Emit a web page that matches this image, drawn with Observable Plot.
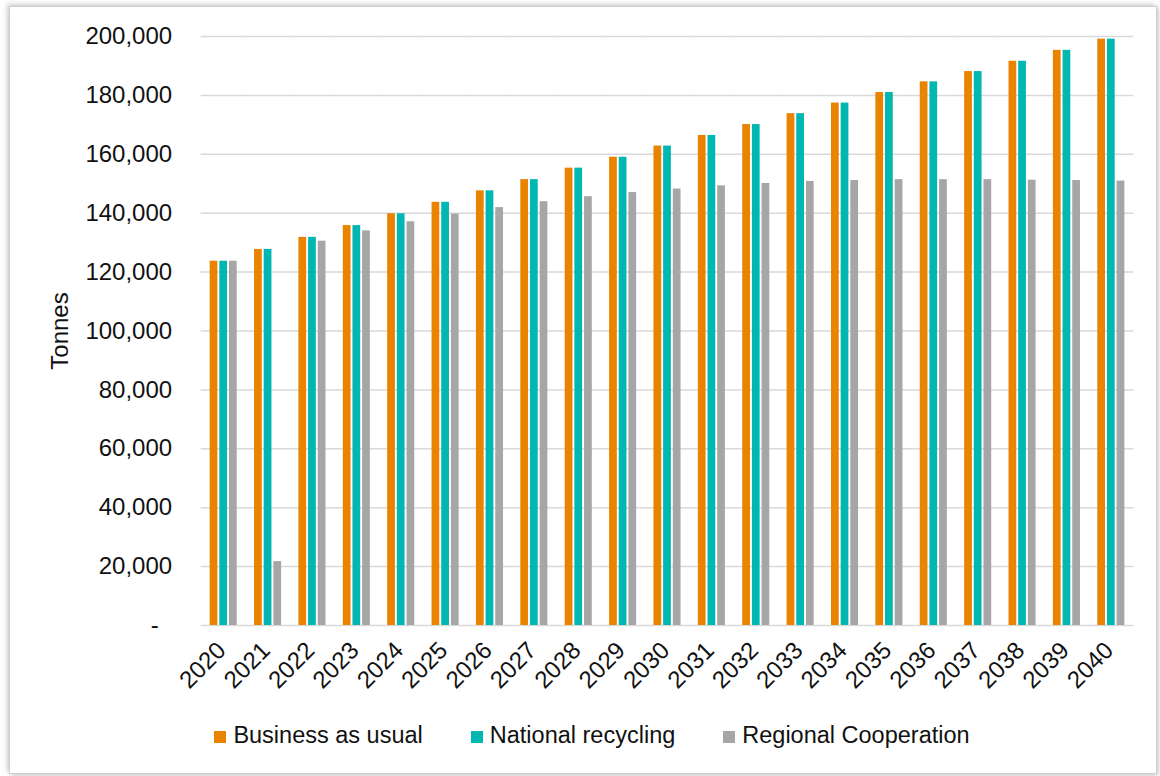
<!DOCTYPE html>
<html>
<head>
<meta charset="utf-8">
<script src="https://cdn.jsdelivr.net/npm/d3@7"></script>
<script src="https://cdn.jsdelivr.net/npm/@observablehq/plot@0.6"></script>
<style>
  html, body { margin: 0; padding: 0; background: #fff; }
  body { width: 1160px; height: 776px; position: relative; overflow: hidden; font-family: "Liberation Sans", Arial, sans-serif; }
  #frame { position: absolute; left: 9px; top: 6px; width: 1146px; height: 766px; border: 1px solid #cfcfcf; box-shadow: -2px -2px 5px rgba(0,0,0,0.18), 2px 2px 5px rgba(0,0,0,0.18); }
  #chart { position: absolute; left: 0; top: 0; }
  #legend { position: absolute; left: 0; width: 1160px; top: 722px; display: flex; justify-content: center; font-size: 23.5px; color: #111; padding-left: 24px; box-sizing: border-box; }
  .item { display: flex; align-items: center; margin: 0 24px; }
  .sw { width: 12px; height: 12px; margin-right: 7px; margin-top: 2px; }
</style>
</head>
<body>
<div id="frame"></div>
<div id="chart"></div>
<div id="legend"></div>
<script>
const years = ["2020","2021","2022","2023","2024","2025","2026","2027","2028","2029","2030","2031","2032","2033","2034","2035","2036","2037","2038","2039","2040"];
const seriesNames = ["Business as usual", "National recycling", "Regional Cooperation"];
const businessAsUsual = [123700,127700,131800,135800,139800,143700,147600,151400,155300,159000,162800,166400,170100,173800,177400,181000,184600,188100,191600,195300,199100];
const nationalRecycling = [123700,127700,131800,135800,139800,143700,147600,151400,155300,159000,162800,166400,170100,173800,177400,181000,184600,188100,191600,195300,199100];
const regionalCooperation = [123700,21700,130500,134000,137100,139700,141900,143900,145600,147000,148200,149300,150100,150800,151100,151400,151400,151400,151200,151100,150900];
const colors = ["#E98300", "#00B7B2", "#A6A6A6"];
const yTicks = [0,20000,40000,60000,80000,100000,120000,140000,160000,180000,200000];

const seriesValues = [businessAsUsual, nationalRecycling, regionalCooperation];
const data = [];
years.forEach((yr, i) => {
  seriesNames.forEach((s, j) => data.push({year: yr, series: s, value: seriesValues[j][i]}));
});

const fmt = d3.format(",");
const chart = Plot.plot({
  width: 1160,
  height: 700,
  marginLeft: 201,
  marginRight: 27,
  marginTop: 36,
  marginBottom: 75,
  style: {fontFamily: "Liberation Sans, Arial, sans-serif", fontSize: "24px", color: "#111", background: "transparent"},
  fx: {domain: years, paddingInner: 0.39, paddingOuter: 0.195, round: false, label: null},
  x: {domain: seriesNames, paddingInner: 0.2, paddingOuter: 0, round: false, axis: null},
  y: {domain: [0, 200000], label: null},
  color: {domain: seriesNames, range: colors},
  marks: [
    Plot.gridY(yTicks, {stroke: "#d9d9d9", strokeOpacity: 1, strokeWidth: 1.5, insetLeft: -9, insetRight: -9}),
    Plot.barY(data, {fx: "year", x: "series", y: "value", fill: "series"}),
    Plot.axisY(yTicks, {tickSize: 0, tickPadding: 38, tickFormat: d => d === 0 ? "-\u00a0\u00a0" : fmt(d), fontSize: 24, label: null}),
    Plot.axisFx({anchor: "bottom", tickSize: 0, tickRotate: -45, tickPadding: 21, dx: -2, fontSize: 24, label: null}),
    Plot.text(["Tonnes"], {frameAnchor: "left", textAnchor: "middle", dx: -150, rotate: -90, fontSize: 24, fill: "#111", facet: "super"})
  ]
});
document.getElementById("chart").appendChild(chart);

const legend = document.getElementById("legend");
seriesNames.forEach((s, j) => {
  const item = document.createElement("div");
  item.className = "item";
  const sw = document.createElement("div");
  sw.className = "sw";
  sw.style.background = colors[j];
  const t = document.createElement("span");
  t.textContent = s;
  item.appendChild(sw); item.appendChild(t);
  legend.appendChild(item);
});
</script>
</body>
</html>
